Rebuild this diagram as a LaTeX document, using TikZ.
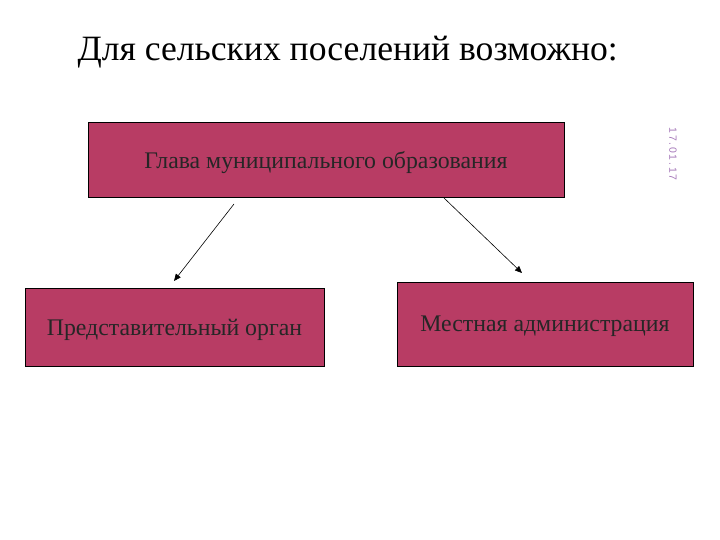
\documentclass[tikz,border=0pt]{standalone}
\usepackage{fontspec}
\setmainfont{Liberation Serif}
\setsansfont{Liberation Sans}
\usetikzlibrary{
    arrows.meta,
    positioning
}
\definecolor{boxred}{RGB}{184,60,100}
\definecolor{datecol}{RGB}{165,120,185}

\begin{document}
\begin{tikzpicture}[
        x=1pt, y=-1pt,
        >={Triangle[length=7pt,width=6pt]},
        block/.style={
            draw=black,
            fill=boxred,
            line width=0.8pt,
            inner sep=0pt,
            text depth=0pt,
            text=black!85,
            font=\fontsize{23.8}{26}\selectfont
        }
    ]
        \useasboundingbox (0,0) rectangle (720,540);
        \node[anchor=west, font=\fontsize{35.6}{40}\selectfont] (title) at (74,52) {Для сельских поселений возможно:};
        \node[block, minimum width=476pt, minimum height=75pt] (head) at (326,159.5) {Глава муниципального образования};
        \node[block, minimum width=299pt, minimum height=78pt] (council) at (174.5,327) {Представительный орган};
        \node[block, minimum width=296pt, minimum height=84pt] (admin) at (545,324) {Местная администрация};
        \node[rotate=-90, text=datecol, font=\fontsize{10.5}{12}\selectfont\sffamily] (date) at (673,154) {1\,7\,.\,0\,1\,.\,1\,7};
        \coordinate (headL) at (234,204);
        \coordinate (councilT) at (174,281);
        \coordinate (headR) at (444,198);
        \coordinate (adminT) at (522,273);
        \draw[->, line width=0.6pt] (headL) -- (councilT);
        \draw[->, line width=0.6pt] (headR) -- (adminT);
    \end{tikzpicture}
\end{document}
